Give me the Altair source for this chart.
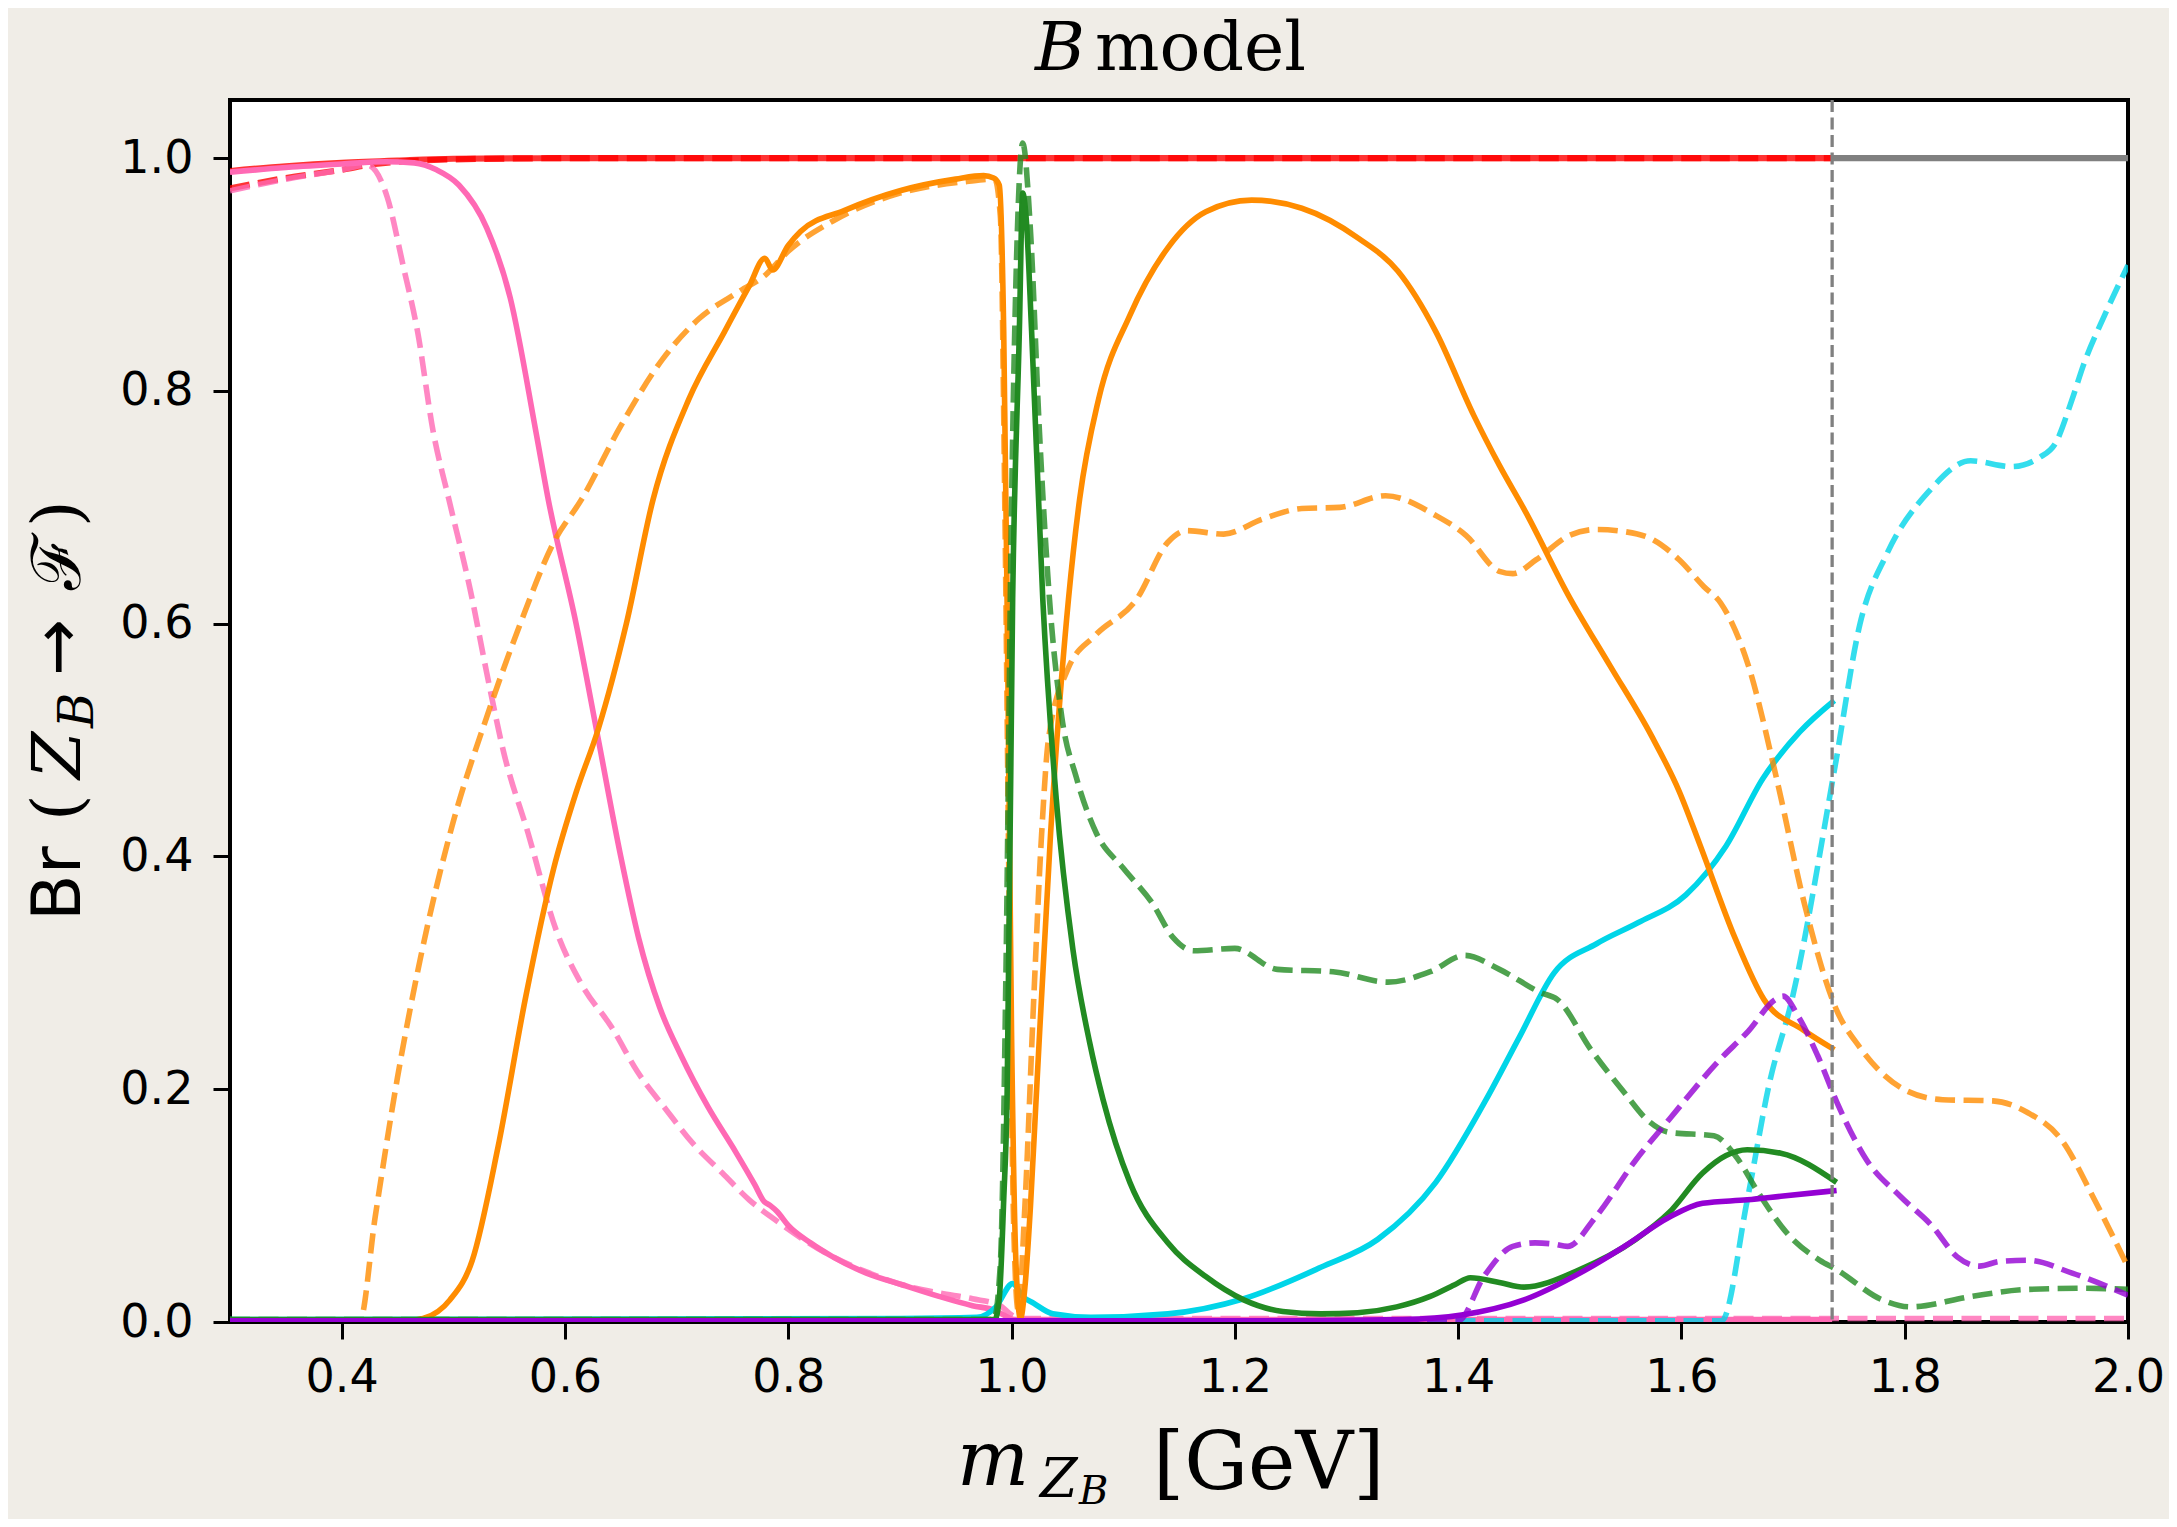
import altair as alt
import pandas as pd

# ---------------- data ----------------
PINK_S_X = [0.30, 0.35, 0.40, 0.44, 0.465, 0.485, 0.505, 0.53, 0.551, 0.574, 0.585, 0.61, 0.63, 0.65, 0.666,
            0.685, 0.704, 0.728, 0.753, 0.77, 0.778, 0.784, 0.79, 0.80, 0.82, 0.84, 0.87, 0.902, 0.935, 0.965,
            0.985, 0.995, 1.003, 1.05, 1.2, 1.4, 1.6, 1.735]
PINK_S_Y = [0.988, 0.992, 0.995, 0.997, 0.996, 0.99, 0.977, 0.94, 0.88, 0.765, 0.707, 0.6, 0.5, 0.4, 0.33,
            0.27, 0.229, 0.185, 0.146, 0.118, 0.104, 0.1, 0.095, 0.083, 0.068, 0.056, 0.042, 0.032, 0.022,
            0.014, 0.01, 0.005, 0.002, 0.002, 0.002, 0.002, 0.002, 0.002]

PINK_D_X = [0.30, 0.35, 0.40, 0.423, 0.441, 0.455, 0.468, 0.482, 0.496, 0.515, 0.532, 0.545, 0.567, 0.592,
            0.615, 0.642, 0.665, 0.691, 0.715, 0.741, 0.765, 0.791, 0.815, 0.84, 0.87, 0.902, 0.935, 0.965,
            0.99, 1.0, 1.01, 1.2, 1.5, 1.8, 2.0]
PINK_D_Y = [0.972, 0.982, 0.99, 0.994, 0.966, 0.908, 0.851, 0.765, 0.707, 0.63, 0.548, 0.49, 0.42, 0.337,
            0.29, 0.253, 0.215, 0.182, 0.153, 0.128, 0.105, 0.086, 0.07, 0.056, 0.043, 0.032, 0.025, 0.02,
            0.014, 0.006, 0.003, 0.003, 0.003, 0.003, 0.003]

ORANGE_S_X = [0.30, 0.45, 0.473, 0.497, 0.517, 0.54, 0.565, 0.59, 0.61, 0.63, 0.655, 0.679, 0.711, 0.743,
              0.765, 0.779, 0.786, 0.8, 0.811, 0.85, 0.9, 0.95, 0.975, 0.984, 0.989, 0.993, 0.996, 1.0, 1.004,
              1.008, 1.012, 1.017, 1.022, 1.035, 1.051, 1.061, 1.078, 1.106, 1.14, 1.174, 1.215, 1.26, 1.311,
              1.346, 1.38, 1.414, 1.437, 1.461, 1.499, 1.536, 1.573, 1.598, 1.617, 1.648, 1.674, 1.709, 1.737]
ORANGE_S_Y = [0.0, 0.0, 0.003, 0.019, 0.053, 0.15, 0.28, 0.39, 0.455, 0.51, 0.6, 0.707, 0.793, 0.851,
              0.89, 0.914, 0.904, 0.925, 0.937, 0.955, 0.972, 0.982, 0.985, 0.983, 0.977, 0.851, 0.621, 0.25, 0.05,
              0.003, 0.03, 0.1, 0.191, 0.42, 0.621, 0.707, 0.793, 0.865, 0.923, 0.954, 0.964, 0.957, 0.931,
              0.903, 0.851, 0.779, 0.736, 0.695, 0.624, 0.564, 0.504, 0.456, 0.409, 0.33, 0.277, 0.251, 0.234]

ORANGE_D_X = [0.30, 0.416, 0.43, 0.45, 0.47, 0.5, 0.53, 0.56, 0.59, 0.615, 0.65, 0.688, 0.72, 0.757, 0.78,
              0.8, 0.84, 0.9, 0.96, 0.985, 0.99, 0.994, 0.998, 1.002, 1.006, 1.012, 1.02, 1.027, 1.033, 1.05,
              1.075, 1.112, 1.14, 1.157, 1.19, 1.225, 1.26, 1.294, 1.335, 1.38, 1.407, 1.437, 1.449, 1.47, 1.5,
              1.524, 1.55, 1.575, 1.598, 1.62, 1.635, 1.66, 1.685, 1.71, 1.739, 1.759, 1.799, 1.834, 1.879,
              1.91, 1.94, 1.97, 2.0]
ORANGE_D_Y = [0.0, 0.0, 0.09, 0.21, 0.31, 0.43, 0.52, 0.6, 0.67, 0.707, 0.77, 0.828, 0.862, 0.886, 0.9,
              0.92, 0.946, 0.97, 0.98, 0.982, 0.95, 0.7, 0.35, 0.08, 0.01, 0.1, 0.28, 0.42, 0.5, 0.56,
              0.59, 0.621, 0.67, 0.68, 0.677, 0.69, 0.699, 0.70, 0.71, 0.693, 0.676, 0.645, 0.643, 0.655, 0.676,
              0.681, 0.679, 0.672, 0.655, 0.632, 0.618, 0.564, 0.468, 0.36, 0.268, 0.237, 0.2, 0.191, 0.19,
              0.18, 0.157, 0.105, 0.047]

GREEN_S_X = [0.30, 0.985, 0.989, 0.993, 0.996, 1.001, 1.007, 1.010, 1.013, 1.018, 1.028, 1.04, 1.055, 1.07,
             1.082, 1.106, 1.14, 1.174, 1.208, 1.243, 1.277, 1.31, 1.345, 1.375, 1.397, 1.411, 1.437, 1.459,
             1.509, 1.559, 1.589, 1.619, 1.64, 1.659, 1.689, 1.739]
GREEN_S_Y = [0.002, 0.002, 0.02, 0.105, 0.191, 0.621, 0.851, 0.97, 0.95, 0.851, 0.621, 0.45, 0.32, 0.24,
             0.191, 0.12, 0.068, 0.039, 0.019, 0.009, 0.007, 0.008, 0.013, 0.022, 0.032, 0.038, 0.034, 0.03,
             0.045, 0.071, 0.094, 0.128, 0.143, 0.148, 0.145, 0.12]

GREEN_D_X = [0.30, 0.984, 0.99, 0.995, 1.0, 1.005, 1.01, 1.017, 1.025, 1.034, 1.045, 1.058, 1.076, 1.1, 1.126,
             1.145, 1.163, 1.2, 1.238, 1.288, 1.337, 1.375, 1.406, 1.437, 1.474, 1.489, 1.519, 1.549, 1.569,
             1.589, 1.629, 1.649, 1.669, 1.694, 1.724, 1.739, 1.78, 1.805, 1.86, 1.91, 1.96, 2.0]
GREEN_D_Y = [0.002, 0.002, 0.05, 0.3, 0.7, 0.93, 1.013, 0.937, 0.765, 0.621, 0.52, 0.468, 0.42, 0.39, 0.36,
             0.33, 0.319, 0.321, 0.303, 0.301, 0.292, 0.301, 0.315, 0.303, 0.283, 0.277, 0.234, 0.197, 0.174,
             0.163, 0.16, 0.142, 0.111, 0.077, 0.053, 0.045, 0.019, 0.013, 0.022, 0.028, 0.029, 0.028]

CYAN_S_X = [0.30, 0.9, 0.969, 0.986, 1.001, 1.01, 1.02, 1.037, 1.071, 1.14, 1.208, 1.277, 1.328, 1.38, 1.425,
            1.455, 1.486, 1.524, 1.561, 1.604, 1.64, 1.673, 1.706, 1.737]
CYAN_S_Y = [0.002, 0.003, 0.004, 0.013, 0.033, 0.022, 0.016, 0.007, 0.004, 0.007, 0.02, 0.047, 0.071, 0.12,
            0.191, 0.245, 0.30, 0.325, 0.343, 0.367, 0.409, 0.467, 0.507, 0.534]

CYAN_D_X = [0.30, 1.636, 1.659, 1.679, 1.699, 1.737, 1.76, 1.784, 1.821, 1.859, 1.896, 1.921, 1.935, 1.95,
            1.96, 1.979, 2.0]
CYAN_D_Y = [0.001, 0.001, 0.105, 0.206, 0.277, 0.474, 0.6, 0.66, 0.713, 0.74, 0.735, 0.743, 0.755, 0.793,
            0.822, 0.865, 0.908]

PURPLE_S_X = [0.30, 1.258, 1.35, 1.403, 1.459, 1.509, 1.549, 1.589, 1.619, 1.659, 1.689, 1.739]
PURPLE_S_Y = [0.001, 0.001, 0.002, 0.006, 0.019, 0.042, 0.065, 0.09, 0.102, 0.105, 0.108, 0.113]

PURPLE_D_X = [0.30, 1.4, 1.423, 1.449, 1.469, 1.485, 1.498, 1.523, 1.559, 1.589, 1.634, 1.66, 1.684, 1.691,
              1.705, 1.722, 1.741, 1.766, 1.796, 1.825, 1.847, 1.867, 1.885, 1.91, 1.95, 2.0]
PURPLE_D_Y = [0.001, 0.001, 0.039, 0.065, 0.068, 0.067, 0.065, 0.09, 0.139, 0.174, 0.225, 0.25, 0.277, 0.28,
              0.262, 0.229, 0.185, 0.139, 0.108, 0.082, 0.056, 0.048, 0.052, 0.053, 0.042, 0.023]

RED_S_X = [0.30, 0.35, 0.40, 0.45, 0.50, 0.60, 1.735]
RED_S_Y = [0.989, 0.993, 0.996, 0.998, 0.9995, 1.0, 1.0]
RED_D_X = [0.30, 0.35, 0.40, 0.43, 0.50, 0.60, 1.735]
RED_D_Y = [0.974, 0.983, 0.99, 0.995, 0.999, 1.0, 1.0]

GRAY_X = [1.735, 2.0]
GRAY_Y = [1.0, 1.0]
THRESHOLD = [1.735]

X_TICKS = [0.4, 0.6, 0.8, 1.0, 1.2, 1.4, 1.6, 1.8, 2.0]
Y_TICKS = [0.0, 0.2, 0.4, 0.6, 0.8, 1.0]

# ---------------- styling ----------------
W, H = 1898, 1222
LW = 5.6
DASH = [20, 8.5]
COL = {"pink": "#ff69b4", "orange": "#ff8c00", "green": "#228b22", "cyan": "#00d5e8",
       "purple": "#9400d3", "red": "#ff0000", "gray": "#808080"}

xscale = alt.Scale(domain=[0.3, 2.0], nice=False, zero=False)
yscale = alt.Scale(domain=[0.0, 1.05], nice=False, zero=False)
xaxis = alt.Axis(values=X_TICKS, format=".1f", title=None, grid=False, domain=False, tickSize=17,
                 tickWidth=3, tickColor="black", labelFont="DejaVu Sans", labelFontSize=46,
                 labelColor="black", labelPadding=16, labelFlush=False, labelOverlap=False)
yaxis = alt.Axis(values=Y_TICKS, format=".1f", title=None, grid=False, domain=False, tickSize=17,
                 tickWidth=3, tickColor="black", labelFont="DejaVu Sans", labelFontSize=46,
                 labelColor="black", labelPadding=20, labelFlush=False, labelOverlap=False)


def line(xs, ys, color, dashed=False, width=LW, opacity=None):
    df = pd.DataFrame({"x": xs, "y": ys})
    kw = dict(color=color, strokeWidth=width, interpolate="monotone", clip=True)
    if dashed:
        kw["strokeDash"] = DASH
        kw["opacity"] = 0.8
    if opacity is not None:
        kw["opacity"] = opacity
    return alt.Chart(df).mark_line(**kw).encode(
        x=alt.X("x:Q", scale=xscale, axis=xaxis),
        y=alt.Y("y:Q", scale=yscale, axis=yaxis),
    )


def label(text, x, y, size, font="DejaVu Serif", italic=False, angle=0, align="left"):
    kw = dict(font=font, fontSize=size, color="black", align=align, baseline="alphabetic")
    if italic:
        kw["fontStyle"] = "italic"
    if angle:
        kw["angle"] = angle
    return alt.Chart(pd.DataFrame({"t": [text]})).mark_text(**kw).encode(
        text="t:N", x=alt.value(x), y=alt.value(y))


layers = [
    line(RED_S_X, RED_S_Y, COL["red"], width=6.2, opacity=0.8),
    line(RED_D_X, RED_D_Y, COL["red"], dashed=True, width=6.2),
    line(GRAY_X, GRAY_Y, COL["gray"], width=6.2),
    line(PINK_S_X, PINK_S_Y, COL["pink"]),
    line(PINK_D_X, PINK_D_Y, COL["pink"], dashed=True),
    line(CYAN_S_X, CYAN_S_Y, COL["cyan"]),
    line(CYAN_D_X, CYAN_D_Y, COL["cyan"], dashed=True),
    line(ORANGE_S_X, ORANGE_S_Y, COL["orange"]),
    line(ORANGE_D_X, ORANGE_D_Y, COL["orange"], dashed=True),
    line(GREEN_S_X, GREEN_S_Y, COL["green"]),
    line(GREEN_D_X, GREEN_D_Y, COL["green"], dashed=True),
    line(PURPLE_S_X, PURPLE_S_Y, COL["purple"]),
    line(PURPLE_D_X, PURPLE_D_Y, COL["purple"], dashed=True),
    alt.Chart(pd.DataFrame({"x": THRESHOLD})).mark_rule(
        color=COL["gray"], strokeWidth=3.3, strokeDash=[12, 5.5]).encode(
        x=alt.X("x:Q", scale=xscale, axis=xaxis)),
    # title
    label("B", 805, -30, 68, italic=True),
    label("model", 865, -30, 68),
    # x-axis title
    label("m", 727, 1385, 76, italic=True),
    label("Z", 810, 1397, 54, italic=True),
    label("B", 849, 1404, 40, italic=True),
    label("[GeV]", 923, 1389, 80),
    # y-axis title (rotated)
    label("Br", -150, 821, 68, font="DejaVu Sans", angle=270),
    label("(", -150, 721, 68, angle=270),
    label("Z", -150, 679, 68, italic=True, angle=270),
    label("B", -137, 628, 48, italic=True, angle=270),
    label("\u2192", -150, 576, 68, font="DejaVu Sans", angle=270),
    label("\u2131", -150, 490, 68, angle=270),
    label(")", -150, 427, 68, angle=270),
]

chart = alt.layer(*layers).properties(
    width=W, height=H,
    padding={"left": 222, "top": 92, "right": 41, "bottom": 197},
    autosize=alt.AutoSizeParams(type="none"),
    background="#f0ede7",
).configure_view(stroke="black", strokeWidth=4, fill="white")

chart.save("out.html", embed_options={"renderer": "svg", "actions": False})
